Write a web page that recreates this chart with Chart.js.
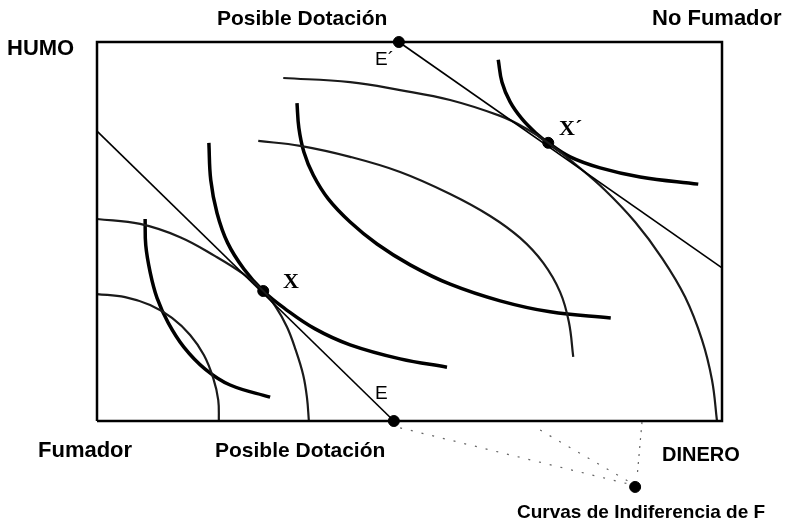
<!DOCTYPE html>
<html>
<head>
<meta charset="utf-8">
<title>Caja de Edgeworth - Humo y Dinero</title>
<script src="https://cdn.jsdelivr.net/npm/chart.js@4.4.1/dist/chart.umd.min.js"></script>
<style>
    html, body { margin: 0; padding: 0; background: #fff; }
    #wrap { width: 792px; height: 529px; }
</style>
</head>
<body>
<div id="wrap"><canvas id="edgeworth" width="792" height="529"></canvas></div>
<script>
// Axes run 0..100 on both sides of the box (dinero across, humo up);
// y goes down to -20 so the legend dot under the box stays in the chart area
const boxCorners = [[0, 0], [100, 0], [100, 100], [0, 100], [0, 0]];

// Budget lines through the two possible endowments
const budgetLineE = [[0, 76.5], [47.5, 0]];
const budgetLineE2 = [[48.3, 100], [100, 40.4]];

// Thick curves
const thickCurve1 = [[7.7, 53.3], [7.8, 46.4], [8.5, 39.3], [9.6, 32.5], [11.4, 25.9], [13.9, 19.5], [17.3, 13.7], [21.3, 9.5], [27.7, 6.3]];
const thickCurve2 = [[17.9, 73.4], [18.2, 63.6], [19.2, 54.9], [20.9, 47.0], [23.5, 40.1], [26.6, 34.3], [30.1, 29.6], [34.9, 24.3], [40.5, 20.1], [48.5, 16.4], [56.0, 14.2]];
const thickCurve3 = [[32.0, 83.9], [32.3, 77.3], [33.1, 71.0], [34.6, 64.9], [37.0, 58.6], [40.5, 52.5], [44.8, 46.7], [50.1, 41.2], [56.5, 36.1], [64.5, 31.7], [72.5, 28.8], [82.2, 27.2]];
const thickCurve4 = [[64.2, 95.3], [64.8, 89.4], [66.1, 84.2], [68.0, 79.7], [70.2, 76.0], [72.2, 73.4], [75.7, 69.7], [80.5, 66.8], [86.9, 64.4], [96.2, 62.5]];

// Thin curves (bent the other way)
const thinCurve1 = [[0, 33.5], [4.5, 32.7], [8.5, 30.6], [12.0, 27.2], [14.9, 22.7], [17.1, 17.4], [18.6, 11.3], [19.4, 5.5], [19.5, 0]];
const thinCurve2 = [[0, 53.3], [6.9, 52.0], [13.3, 48.5], [18.9, 43.5], [23.4, 38.8], [26.6, 34.3], [28.6, 30.1], [30.4, 24.8], [31.8, 18.7], [33.0, 12.1], [33.6, 6.1], [33.9, 0]];
const thinCurve3 = [[25.8, 73.9], [32.5, 72.6], [40.5, 69.7], [48.5, 65.7], [56.5, 59.9], [62.9, 54.1], [67.7, 48.3], [71.4, 41.7], [74.1, 34.0], [75.5, 26.1], [76.2, 16.9]];
const thinCurve4 = [[29.8, 90.5], [40.5, 89.4], [48.5, 87.3], [56.5, 84.7], [64.5, 80.5], [68.5, 77.3], [72.2, 73.4], [76.5, 67.8], [81.3, 60.9], [86.1, 52.5], [90.4, 43.0], [94.1, 32.7], [96.8, 21.4], [98.4, 10.8], [99.2, 0]];

// Marked points: E, E', X, X' and the legend dot below the box
const markedPoints = [[47.5, 0], [48.3, 100], [26.6, 34.3], [72.2, 73.4], [86.1, -17.4]];

// Dotted leaders running to the legend dot
const leader1 = [[48.5, -1.8], [85.0, -16.6]];
const leader2 = [[70.9, -2.4], [85.3, -16.2]];
const leader3 = [[87.2, -0.3], [86.4, -15.0]];

const toXY = pts => pts.map(p => ({ x: p[0], y: p[1] }));

function lineSet(pts, width, color, extra) {
    return Object.assign({
        data: toXY(pts),
        showLine: true,
        borderColor: color,
        borderWidth: width,
        pointRadius: 0,
        tension: 0.4,
        fill: false,
        clip: false
    }, extra || {});
}

// Text labels around the box
const labelsPlugin = {
    id: 'boxLabels',
    afterDraw(chart) {
        const ctx = chart.ctx;
        const top = chart.scales.y.getPixelForValue(100);
        const bottom = chart.scales.y.getPixelForValue(0);
        const sans = '"Liberation Sans", Arial, sans-serif';
        ctx.save();
        ctx.fillStyle = '#000';
        ctx.textBaseline = 'alphabetic';
        ctx.textAlign = 'left';

        ctx.font = 'bold 22px ' + sans;
        ctx.fillText('HUMO', 7, top + 13);
        ctx.fillText('No Fumador', 652, top - 17);
        ctx.fillText('Fumador', 38, bottom + 36);

        ctx.font = 'bold 21px ' + sans;
        ctx.fillText('Posible Dotación', 217, top - 17);
        ctx.fillText('Posible Dotación', 215, bottom + 36);

        ctx.font = 'bold 20px ' + sans;
        ctx.fillText('DINERO', 662, bottom + 40);

        ctx.font = 'bold 19px ' + sans;
        ctx.fillText('Curvas de Indiferencia de F', 517, bottom + 97);

        ctx.font = '19px ' + sans;
        ctx.fillText('E´', 375, top + 23);
        ctx.fillText('E', 375, bottom - 22);

        ctx.font = 'bold 22px "Liberation Serif", "Times New Roman", serif';
        ctx.fillText('X', 283, top + 246);
        ctx.fillText('X´', 559, top + 93);
        ctx.restore();
    }
};

const chart = new Chart(document.getElementById('edgeworth'), {
    type: 'scatter',
    data: {
        datasets: [
            lineSet(boxCorners, 2.5, '#000', { tension: 0 }),
            lineSet(leader1, 1.2, '#666', { tension: 0, borderDash: [2, 9] }),
            lineSet(leader2, 1.2, '#666', { tension: 0, borderDash: [2, 9] }),
            lineSet(leader3, 1.2, '#666', { tension: 0, borderDash: [2, 6] }),
            lineSet(budgetLineE, 1.6, '#000', { tension: 0 }),
            lineSet(budgetLineE2, 1.6, '#000', { tension: 0 }),
            lineSet(thinCurve1, 2.2, '#1a1a1a'),
            lineSet(thinCurve2, 2.2, '#1a1a1a'),
            lineSet(thinCurve3, 2.2, '#1a1a1a'),
            lineSet(thinCurve4, 2.2, '#1a1a1a'),
            lineSet(thickCurve1, 3.5, '#000'),
            lineSet(thickCurve2, 3.5, '#000'),
            lineSet(thickCurve3, 3.5, '#000'),
            lineSet(thickCurve4, 3.5, '#000'),
            {
                data: toXY(markedPoints),
                showLine: false,
                pointRadius: 5.5,
                pointBackgroundColor: '#000',
                pointBorderColor: '#000',
                clip: false
            }
        ]
    },
    options: {
        responsive: false,
        animation: false,
        devicePixelRatio: 1,
        layout: { padding: { left: 97, right: 70, top: 42, bottom: 32.2 } },
        scales: {
            x: { type: 'linear', min: 0, max: 100, display: false },
            y: { type: 'linear', min: -20, max: 100, display: false }
        },
        plugins: {
            legend: { display: false },
            tooltip: { enabled: false }
        }
    },
    plugins: [labelsPlugin]
});
</script>
</body>
</html>
